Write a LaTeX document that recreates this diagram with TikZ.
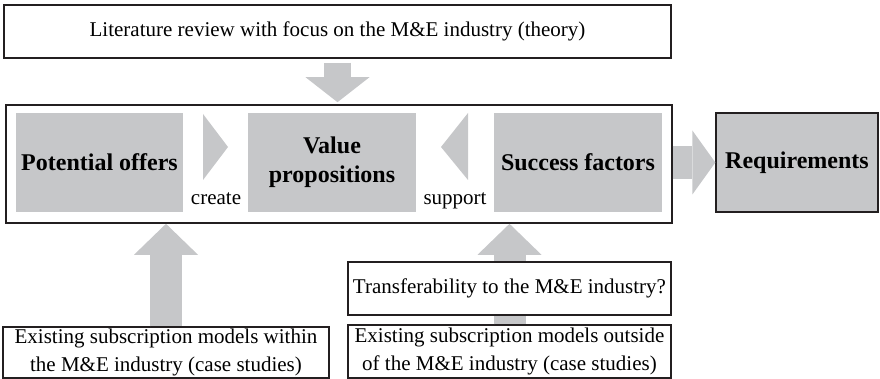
\documentclass[tikz,border=0pt]{standalone}
\usepackage{fontspec}
\setmainfont{Liberation Serif}
\usetikzlibrary{arrows.meta}
\definecolor{panelgray}{RGB}{198,199,201}
\definecolor{inkline}{RGB}{35,31,32}
\begin{document}
\begin{tikzpicture}[x=1pt,y=-1pt,
  outline/.style={draw=inkline, line width=1.3pt, inner sep=0pt},
  plainbox/.style={outline, fill=white, font=\fontsize{21}{28}\selectfont, align=center},
  graybox/.style={fill=panelgray, inner sep=0pt, font=\bfseries\fontsize{24}{29}\selectfont, align=center},
  fatshaft/.style={draw=panelgray, line width=32pt},
  fatarrow/.style={fatshaft, -{Triangle[width=64pt,length=#1,line width=0pt]}},
  fatarrow/.default=31pt,
  verb/.style={font=\fontsize{21}{24}\selectfont, inner sep=0pt}
]
\useasboundingbox (0,0) rectangle (880,379);

% outer frame around the three analysis blocks
\node[outline, line width=1.6pt, minimum width=666pt, minimum height=118pt] (frame) at (339,164) {};

% source boxes
\node[plainbox, minimum width=667pt, minimum height=53pt] (lit) at (337.5,31.5)
  {Literature review with focus on the M\&E industry (theory)};
\node[plainbox, minimum width=326pt, minimum height=51pt] (exL) at (166,352.5)
  {Existing subscription models within\\the M\&E industry (case studies)};
\node[plainbox, minimum width=323pt, minimum height=53pt] (exR) at (509.5,351.5)
  {Existing subscription models outside\\of the M\&E industry (case studies)};

% block arrows
\draw[fatarrow=25pt, line width=27pt, shorten <=4pt, shorten >=2pt] (lit.south) -- (lit.south |- frame.north);
\draw[fatarrow] (exL.north) -- (exL.north |- frame.south);
\draw[fatshaft] (exR.north) -- (exR.north |- 0,315);
\draw[fatarrow] (exR.north |- 0,262) -- (exR.north |- frame.south);

\node[plainbox, minimum width=323pt, minimum height=53pt] (trans) at (509.5,288.5)
  {Transferability to the M\&E industry?};

% inner blocks
\node[graybox, minimum width=167pt, minimum height=99pt] (offers) at (99.5,162.5) {Potential offers};
\node[graybox, minimum width=168pt, minimum height=99pt] (value) at (332,162.5) {Value\\propositions};
\node[graybox, minimum width=168pt, minimum height=99pt] (success) at (578,162.5) {Success factors};
\node[graybox, outline, minimum width=162pt, minimum height=99pt] (req) at (797,162.5) {Requirements};

\draw[draw=panelgray, line width=33pt, -{Triangle[width=64pt,length=23pt,line width=0pt]}]
  (frame.east |- req.west) -- (req.west);

% relation markers between the blocks
\fill[panelgray] (203,114) -- (228,147) -- (203,180) -- cycle;
\fill[panelgray] (468,113) -- (441,147) -- (468,180) -- cycle;
\node[verb, anchor=base] (create) at (216,205) {create};
\node[verb, anchor=base] (support) at (455,205) {support};
\end{tikzpicture}
\end{document}
